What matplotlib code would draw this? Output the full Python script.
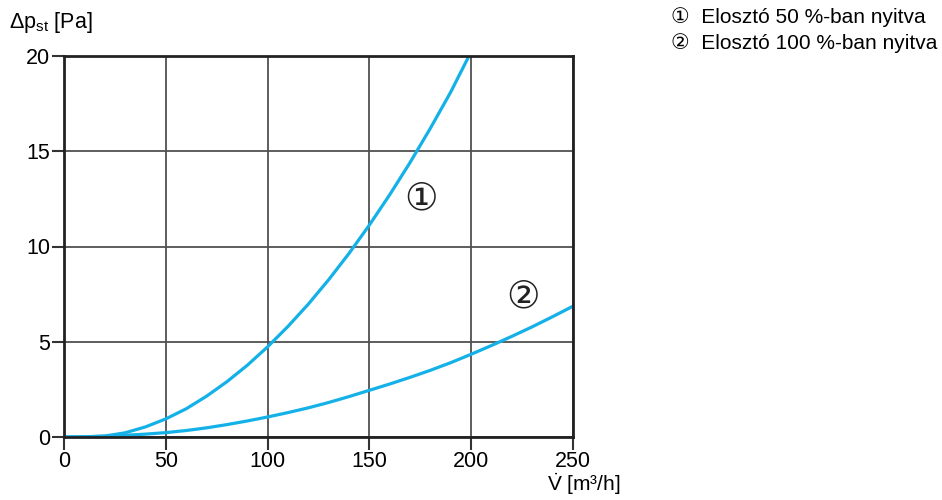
import numpy as np
import matplotlib.pyplot as plt

plt.rcParams['font.family'] = ['Liberation Sans', 'DejaVu Sans', 'Noto Sans CJK SC']
plt.rcParams['mathtext.fontset'] = 'custom'
plt.rcParams['mathtext.rm'] = 'Liberation Sans'
plt.rcParams['mathtext.it'] = 'Liberation Sans'
plt.rcParams['mathtext.bf'] = 'Liberation Sans:bold'

# flow rate [m3/h] and static pressure drop [Pa]
flow_1 = [0, 10, 20, 30, 40, 50, 60, 70, 80, 90, 100, 110, 120, 130, 140, 150, 160, 170, 180, 190, 199]
dp_1 = [0, 0.01, 0.05, 0.22, 0.53, 0.95, 1.48, 2.14, 2.90, 3.76, 4.73, 5.80, 6.97, 8.25, 9.63, 11.12, 12.71, 14.40, 16.20, 18.10, 20.0]

flow_2 = [0, 10, 20, 30, 40, 50, 60, 70, 80, 90, 100, 110, 120, 130, 140, 150, 160, 170, 180, 190, 200, 210, 220, 230, 240, 250]
dp_2 = [0, 0.01, 0.04, 0.09, 0.15, 0.23, 0.34, 0.48, 0.65, 0.84, 1.05, 1.28, 1.53, 1.81, 2.12, 2.45, 2.78, 3.13, 3.50, 3.90, 4.34, 4.80, 5.28, 5.78, 6.31, 6.86]

xticks = [0, 50, 100, 150, 200, 250]
yticks = [0, 5, 10, 15, 20]
legend = ["\u2460  Elosztó 50 %-ban nyitva", "\u2461  Elosztó 100 %-ban nyitva"]

blue = '#13b1e8'

fig = plt.figure(figsize=(9.42, 5), dpi=100)
ax = fig.add_axes([0.068, 0.126, 0.540, 0.762])

ax.plot(flow_1, dp_1, color=blue, lw=2.3)
ax.plot(flow_2, dp_2, color=blue, lw=2.3)

ax.set_xlim(0, 250)
ax.set_ylim(0, 20)
ax.set_xticks(xticks)
ax.set_yticks(yticks)
ax.grid(True, color='#505050', lw=1.3)
ax.set_axisbelow(True)
for s in ax.spines.values():
    s.set_linewidth(2)
    s.set_color('#222222')
ax.tick_params(direction='out', length=9, width=1.5, color='#333333', labelsize=15.5, pad=1)

circ = ['DejaVu Sans', 'Noto Sans CJK SC']
ax.text(175.5, 12.45, "\u2460", fontsize=27, ha='center', va='center', family=circ, color='#222222')
ax.text(225.5, 7.3, "\u2461", fontsize=27, ha='center', va='center', family=circ, color='#222222')

fig.text(0.010, 0.955, "$\\Delta$p$_{\\mathrm{st}}$ [Pa]", fontsize=15.5, ha='left', va='center')
fig.text(0.659, 0.006, "$\\dot{V}$ [m³/h]", fontsize=15, ha='right', va='bottom')

fig.text(0.712, 0.966, legend[0], fontsize=15, ha='left', va='center')
fig.text(0.712, 0.914, legend[1], fontsize=15, ha='left', va='center')

fig.savefig('out.png', dpi=100)
